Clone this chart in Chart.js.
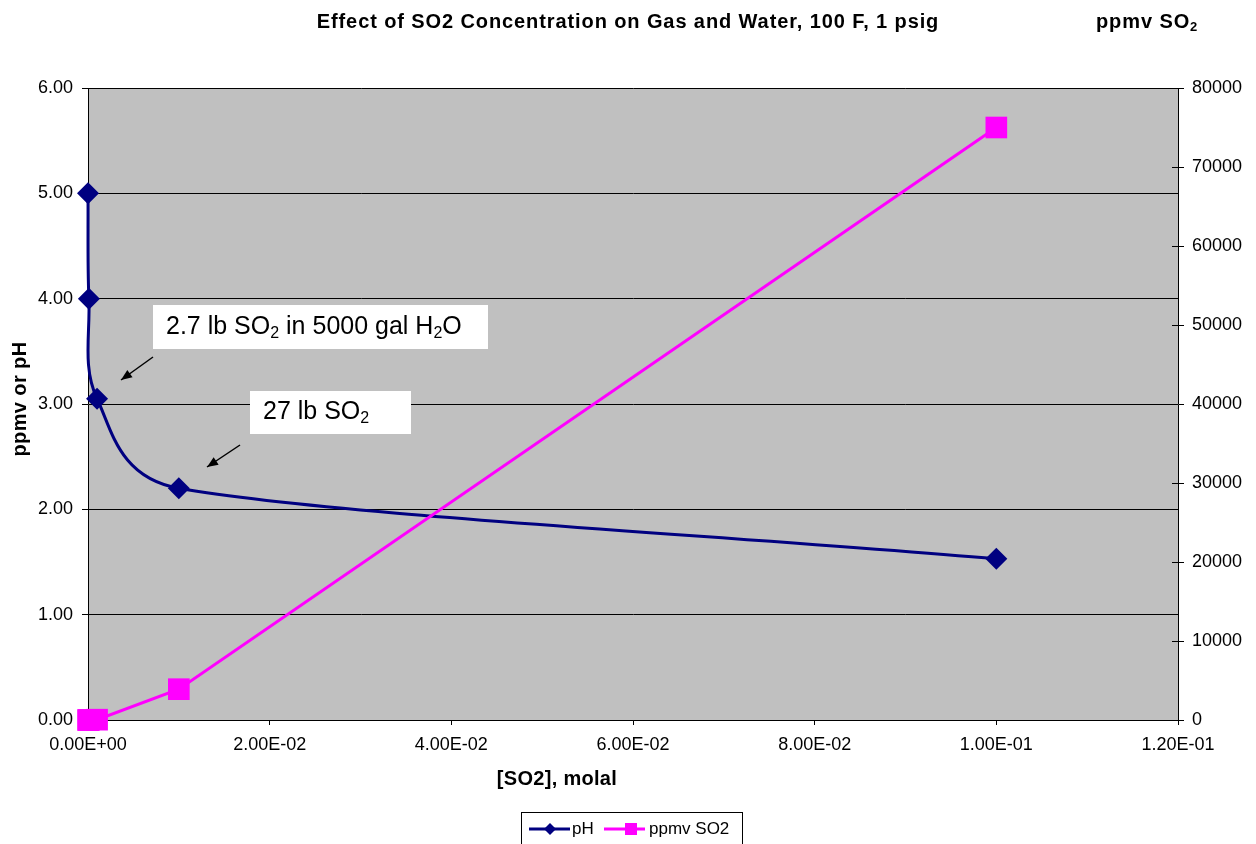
<!DOCTYPE html>
<html>
<head>
<meta charset="utf-8">
<script src="https://cdn.jsdelivr.net/npm/chart.js@4.4.1/dist/chart.umd.min.js"></script>
<style>
  html, body { margin: 0; padding: 0; background: #fff; }
  #wrap { width: 1256px; height: 844px; position: relative; }
</style>
</head>
<body>
<div id="wrap"><canvas id="c" width="1256" height="844"></canvas></div>
<script>
// ---- data ----
const so2Molal = [0, 0.0001, 0.001, 0.01, 0.1];
const pHValues = [5.0, 4.0, 3.05, 2.2, 1.53];
const ppmvSO2 = [0, 4, 40, 3900, 75000];
const leftTicks = [0, 1, 2, 3, 4, 5, 6];
const rightTicks = [0, 10000, 20000, 30000, 40000, 50000, 60000, 70000, 80000];
const xTicks = [0, 0.02, 0.04, 0.06, 0.08, 0.1, 0.12];

const FONT = '"Liberation Sans", Arial, Helvetica, sans-serif';

function expLabel(v) {
  if (Math.abs(v) < 1e-12) return '0.00E+00';
  const s = v.toExponential(2).toUpperCase();
  const m = s.match(/^(.*)E([+-])(\d+)$/);
  const e = m[3].length < 2 ? '0' + m[3] : m[3];
  return m[1] + 'E' + m[2] + e;
}

function drawRich(ctx, x, y, parts, size, bold) {
  let cx = x;
  for (const [t, sub] of parts) {
    const fs = sub ? Math.round(size * 0.65) : size;
    ctx.font = (bold ? 'bold ' : '') + fs + 'px ' + FONT;
    ctx.fillText(t, cx, sub ? y + size * 0.28 : y);
    cx += ctx.measureText(t).width;
  }
  return cx - x;
}

function setSpacing(ctx, px) {
  if ('letterSpacing' in ctx) ctx.letterSpacing = px + 'px';
}

function arrow(ctx, x1, y1, x2, y2) {
  ctx.save();
  ctx.strokeStyle = '#000';
  ctx.fillStyle = '#000';
  ctx.lineWidth = 1.5;
  ctx.beginPath();
  ctx.moveTo(x1, y1);
  ctx.lineTo(x2, y2);
  ctx.stroke();
  const a = Math.atan2(y2 - y1, x2 - x1);
  const L = 11, W = 4.5;
  ctx.beginPath();
  ctx.moveTo(x2, y2);
  ctx.lineTo(x2 - L * Math.cos(a) + W * Math.sin(a), y2 - L * Math.sin(a) - W * Math.cos(a));
  ctx.lineTo(x2 - L * Math.cos(a) - W * Math.sin(a), y2 - L * Math.sin(a) + W * Math.cos(a));
  ctx.closePath();
  ctx.fill();
  ctx.restore();
}

// Excel-like smoothing: Catmull-Rom (1/6) control points, clamped to half the adjacent segment
const excelSmooth = {
  id: 'excelSmooth',
  beforeDatasetsDraw(chart) {
    chart.data.datasets.forEach((ds, di) => {
      if (!ds.excelSmooth) return;
      const meta = chart.getDatasetMeta(di);
      const pts = meta.data;
      const n = pts.length;
      const clampVec = (vx, vy, maxLen) => {
        const len = Math.hypot(vx, vy);
        if (len > maxLen && len > 0) { const k = maxLen / len; return [vx * k, vy * k]; }
        return [vx, vy];
      };
      for (let i = 0; i < n; i++) {
        const p = pts[i];
        const prev = pts[i - 1], next = pts[i + 1];
        let tx, ty;
        if (prev && next) { tx = (next.x - prev.x) / 6; ty = (next.y - prev.y) / 6; }
        else if (next) { tx = (next.x - p.x) / 3; ty = (next.y - p.y) / 3; }
        else { tx = (p.x - prev.x) / 3; ty = (p.y - prev.y) / 3; }
        if (prev) {
          const d = Math.hypot(p.x - prev.x, p.y - prev.y);
          const [bx, by] = clampVec(tx, ty, 0.5 * d);
          p.cp1x = p.x - bx; p.cp1y = p.y - by;
        } else { p.cp1x = p.x; p.cp1y = p.y; }
        if (next) {
          const d = Math.hypot(next.x - p.x, next.y - p.y);
          const [fx, fy] = clampVec(tx, ty, 0.5 * d);
          p.cp2x = p.x + fx; p.cp2y = p.y + fy;
        } else { p.cp2x = p.x; p.cp2y = p.y; }
      }
      if (meta.dataset) meta.dataset._pointsUpdated = true;
    });
  }
};

const decor = {
  id: 'decor',
  beforeDraw(chart) {
    const { ctx, chartArea: a } = chart;
    ctx.save();
    ctx.fillStyle = '#C0C0C0';
    ctx.fillRect(a.left, a.top, a.right - a.left, a.bottom - a.top);
    ctx.restore();
  },
  afterDraw(chart) {
    const { ctx, chartArea: a } = chart;
    const yR = chart.scales.y1;
    ctx.save();
    ctx.strokeStyle = '#000';
    ctx.lineWidth = 1;
    for (const v of rightTicks) {
      const py = Math.round(yR.getPixelForValue(v)) + 0.5;
      ctx.beginPath();
      ctx.moveTo(a.right - 6, py);
      ctx.lineTo(a.right, py);
      ctx.stroke();
    }
    ctx.fillStyle = '#000';
    ctx.textBaseline = 'middle';
    // title
    ctx.save();
    setSpacing(ctx, 0.9);
    ctx.font = 'bold 20px ' + FONT;
    ctx.textAlign = 'center';
    ctx.fillText('Effect of SO2 Concentration on Gas and Water, 100 F, 1 psig', 628, 22);
    // right axis title at top
    ctx.textAlign = 'left';
    drawRich(ctx, 1096, 22, [['ppmv SO', false], ['2', true]], 20, true);
    ctx.restore();
    // x axis title
    ctx.save();
    setSpacing(ctx, 0.3);
    ctx.font = 'bold 20px ' + FONT;
    ctx.textAlign = 'center';
    ctx.fillText('[SO2], molal', 557, 779);
    ctx.restore();
    // left axis title
    ctx.save();
    setSpacing(ctx, 0.4);
    ctx.font = 'bold 20px ' + FONT;
    ctx.textAlign = 'center';
    ctx.translate(20, 399);
    ctx.rotate(-Math.PI / 2);
    ctx.fillText('ppmv or pH', 0, 0);
    ctx.restore();

    // annotation boxes
    ctx.textAlign = 'left';
    ctx.fillStyle = '#fff';
    ctx.fillRect(153, 305, 335, 44);
    ctx.fillRect(250, 391, 161, 43);
    ctx.fillStyle = '#000';
    drawRich(ctx, 166, 327, [['2.7 lb SO', false], ['2', true], [' in 5000 gal H', false], ['2', true], ['O', false]], 25, false);
    drawRich(ctx, 263, 412, [['27 lb SO', false], ['2', true]], 25, false);
    arrow(ctx, 153, 357, 121, 380);
    arrow(ctx, 240, 445, 207, 467);

    // legend
    ctx.strokeStyle = '#000';
    ctx.lineWidth = 1;
    ctx.fillStyle = '#fff';
    ctx.fillRect(521.5, 812.5, 221, 40);
    ctx.strokeRect(521.5, 812.5, 221, 40);
    ctx.strokeStyle = '#000080';
    ctx.lineWidth = 3;
    ctx.beginPath(); ctx.moveTo(529, 829); ctx.lineTo(570, 829); ctx.stroke();
    ctx.fillStyle = '#000080';
    ctx.beginPath();
    ctx.moveTo(550, 823); ctx.lineTo(556, 829); ctx.lineTo(550, 835); ctx.lineTo(544, 829);
    ctx.closePath(); ctx.fill();
    ctx.fillStyle = '#000';
    ctx.font = '17px ' + FONT;
    ctx.textAlign = 'left';
    ctx.fillText('pH', 572, 829);
    ctx.strokeStyle = '#FF00FF';
    ctx.beginPath(); ctx.moveTo(604, 829); ctx.lineTo(645, 829); ctx.stroke();
    ctx.fillStyle = '#FF00FF';
    ctx.fillRect(625, 823, 12, 12);
    ctx.fillStyle = '#000';
    ctx.fillText('ppmv SO2', 649, 829);
    ctx.restore();
  }
};

const ctx = document.getElementById('c').getContext('2d');
new Chart(ctx, {
  type: 'line',
  data: {
    datasets: [
      {
        label: 'pH',
        data: so2Molal.map((x, i) => ({ x: x, y: pHValues[i] })),
        yAxisID: 'y',
        borderColor: '#000080',
        backgroundColor: '#000080',
        borderWidth: 3,
        pointStyle: 'rectRot',
        pointRadius: 11,
        pointHoverRadius: 11,
        pointBorderWidth: 0,
        tension: 0.4,
        excelSmooth: true,
        clip: false,
        fill: false,
        order: 2
      },
      {
        label: 'ppmv SO2',
        data: so2Molal.map((x, i) => ({ x: x, y: ppmvSO2[i] })),
        yAxisID: 'y1',
        borderColor: '#FF00FF',
        backgroundColor: '#FF00FF',
        borderWidth: 3,
        pointStyle: 'rect',
        pointRadius: 15.3,
        pointHoverRadius: 15.3,
        pointBorderWidth: 0,
        tension: 0,
        clip: false,
        fill: false,
        order: 1
      }
    ]
  },
  options: {
    responsive: false,
    animation: false,
    events: [],
    layout: { padding: { top: 88, left: 0, right: 0, bottom: 0 } },
    plugins: {
      legend: { display: false },
      title: { display: false },
      tooltip: { enabled: false }
    },
    scales: {
      x: {
        type: 'linear',
        min: 0,
        max: 0.12,
        afterBuildTicks(s) { s.ticks = xTicks.map(v => ({ value: v })); },
        afterFit(s) { s.height = 124; },
        ticks: {
          color: '#000',
          font: { family: FONT, size: 18 },
          padding: 9,
          maxRotation: 0,
          autoSkip: false,
          callback: v => expLabel(v)
        },
        grid: { drawOnChartArea: false, color: '#000', tickLength: 5 },
        border: { display: true, color: '#000', width: 1 }
      },
      y: {
        type: 'linear',
        position: 'left',
        min: 0,
        max: 6,
        afterBuildTicks(s) { s.ticks = leftTicks.map(v => ({ value: v })); },
        afterFit(s) { s.width = 88; },
        ticks: {
          color: '#000',
          font: { family: FONT, size: 18 },
          padding: 9,
          callback: v => Number(v).toFixed(2)
        },
        grid: { color: '#000', lineWidth: 1, tickLength: 6 },
        border: { display: true, color: '#000', width: 1 }
      },
      y1: {
        type: 'linear',
        position: 'right',
        min: 0,
        max: 80000,
        afterBuildTicks(s) { s.ticks = rightTicks.map(v => ({ value: v })); },
        afterFit(s) { s.width = 78; },
        ticks: {
          color: '#000',
          font: { family: FONT, size: 18 },
          padding: 8,
          callback: v => String(v)
        },
        grid: { drawOnChartArea: false, color: '#000', tickLength: 6 },
        border: { display: true, color: '#000', width: 1 }
      }
    }
  },
  plugins: [excelSmooth, decor]
});
</script>
</body>
</html>
